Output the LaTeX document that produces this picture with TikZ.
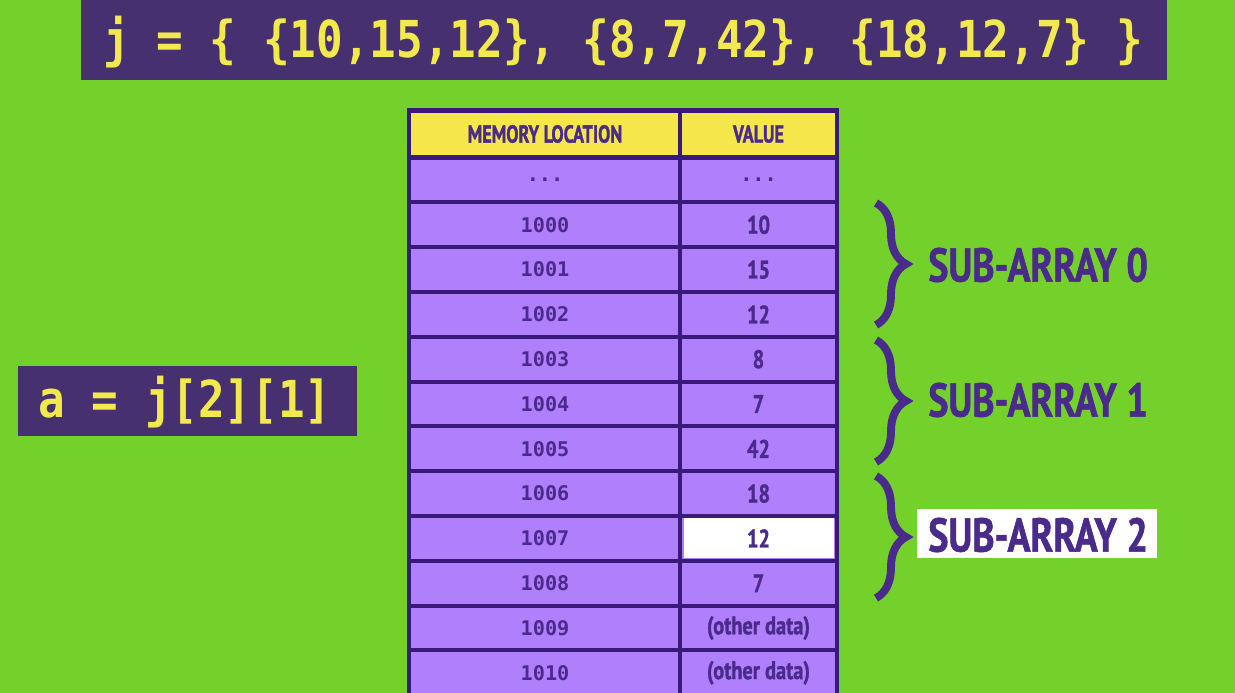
\documentclass[tikz,border=0pt]{standalone}
\usepackage{fontspec}
\usepackage{graphicx}
\usetikzlibrary{decorations.pathreplacing}
\newfontfamily\monof{DejaVu Sans Mono}
\newfontfamily\condf{PT Sans Bold}[FakeStretch=0.74, FakeBold=1.2]
\newfontfamily\condwf{PT Sans Bold}[FakeStretch=0.8, FakeBold=1.2]
\definecolor{bggreen}{HTML}{74D02B}
\definecolor{banner}{HTML}{46306F}
\definecolor{codeyellow}{HTML}{F2EA4C}
\definecolor{hdryellow}{HTML}{F5E64B}
\definecolor{cellpurple}{HTML}{B07FFC}
\definecolor{border}{HTML}{3A1A78}
\definecolor{txtpurple}{HTML}{4A2A8A}
\newcommand{\tallcode}[1]{\scalebox{1}[1.15]{#1}}
\tikzset{
  codebox/.style={fill=banner, inner sep=0pt, anchor=north west},
  codetext/.style={text=codeyellow, font=\monof\bfseries\fontsize{25.2}{26}\selectfont, inner sep=0pt},
  cellbox/.style={draw=border, line width=2.3pt, fill=cellpurple, inner sep=0pt,
     text=txtpurple, minimum height=44.8*0.02cm},
  loccol/.style={cellbox, minimum width=272*0.02cm, font=\monof\bfseries\fontsize{11.5}{12}\selectfont},
  valcol/.style={cellbox, minimum width=157*0.02cm, font=\condwf\fontsize{14.5}{15}\selectfont},
  hdrcell/.style={fill=hdryellow, minimum height=47*0.02cm, font=\condf\fontsize{14}{15}\selectfont},
  bracepath/.style={draw=txtpurple, line width=4.5pt, decorate,
     decoration={brace, amplitude=30*0.02cm}},
  sublabel/.style={text=txtpurple, font=\condwf\fontsize{27}{28}\selectfont, inner sep=0pt, anchor=west}
}
\begin{document}
\begin{tikzpicture}[x=0.02cm,y=-0.02cm]
\fill[bggreen] (0,0) rectangle (1235,693);
\useasboundingbox (0,0) rectangle (1235,693);

% top banner
\node[codebox, minimum width=1086*0.02cm, minimum height=80*0.02cm] (banner) at (81,0) {};
\node[codetext] (bannertxt) at (623,42) {\tallcode{j = \{ \{10,15,12\}, \{8,7,42\}, \{18,12,7\} \}}};

% left box
\node[codebox, minimum width=339*0.02cm, minimum height=70*0.02cm] (abox) at (18,366) {};
\node[codetext] (atxt) at (185,402) {\tallcode{a = j[2][1]}};

% table
\begin{scope}
\clip (0,0) rectangle (1235,693);
\node[loccol, hdrcell] (h1) at (545,134) {MEMORY LOCATION};
\node[valcol, hdrcell] (h2) at (758.5,134) {VALUE};
\node[loccol] (l0) at (545,180) {...};
\node[valcol, font=\monof\bfseries\fontsize{11.5}{12}\selectfont] (v0) at (758.5,180) {...};
\foreach \i/\loc/\val in {1/1000/10, 2/1001/15, 3/1002/12, 4/1003/8, 5/1004/7,
   6/1005/42, 7/1006/18, 8/1007/12, 9/1008/7, 10/1009/(other data), 11/1010/(other data)}{
  \node[loccol] (l\i) at (545,180+44.8*\i) {\loc};
  \node[valcol] (v\i) at (758.5,180+44.8*\i) {\val};
}
\node[valcol, fill=white, draw=none, minimum width=150*0.02cm, minimum height=40*0.02cm] (hl) at (v8) {12};
\end{scope}

% braces
\coordinate (b0t) at (876,203); \coordinate (b0b) at (876,325);
\coordinate (b1t) at (876,340); \coordinate (b1b) at (876,462);
\coordinate (b2t) at (876,476); \coordinate (b2b) at (876,598);
\draw[bracepath] (b0t) -- (b0b);
\draw[bracepath] (b1t) -- (b1b);
\draw[bracepath] (b2t) -- (b2b);

% labels
\node[sublabel] (s0) at (928,265) {SUB-ARRAY 0};
\node[sublabel] (s1) at (928,400) {SUB-ARRAY 1};
\node[fill=white, minimum width=240*0.02cm, minimum height=49*0.02cm, inner sep=0pt, anchor=north west] (s2box) at (917,509) {};
\node[sublabel] (s2) at (928,535) {SUB-ARRAY 2};
\end{tikzpicture}
\end{document}
